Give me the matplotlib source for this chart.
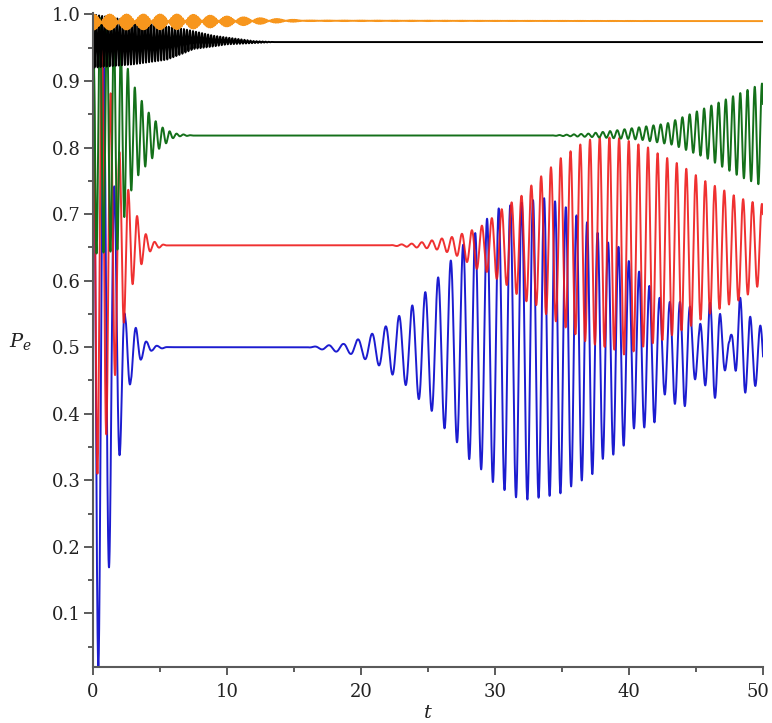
import numpy as np
import matplotlib
matplotlib.use("Agg")
import matplotlib.pyplot as plt
from matplotlib.ticker import MultipleLocator

# ---- excited-state population curves: envelope knots and carrier periods ----
# blue
blue_up_t = [0, 0.8, 1.6, 2.4, 3.2, 4.0, 4.8, 5.6, 16.0, 18.7, 19.8, 20.8, 21.9, 22.9,
             23.9, 24.9, 25.8, 26.8, 27.7, 28.6, 29.4, 30.3, 31.5, 32.6, 33.7, 34.5, 35.3,
             36.0, 36.8, 37.6, 38.3, 39.1, 39.9, 40.6, 41.4, 42.2, 42.9, 44.4, 45.2, 46.0,
             46.8, 47.5, 48.2, 49.2, 50.0]
blue_up_v = [1.0, 0.92, 0.74, 0.545, 0.529, 0.508, 0.502, 0.5, 0.5, 0.505, 0.512, 0.52,
             0.532, 0.548, 0.564, 0.585, 0.606, 0.633, 0.656, 0.673, 0.693, 0.709, 0.715,
             0.72, 0.724, 0.719, 0.71, 0.699, 0.689, 0.673, 0.658, 0.654, 0.631, 0.618,
             0.595, 0.575, 0.568, 0.568, 0.53, 0.568, 0.55, 0.51, 0.578, 0.54, 0.53]
blue_lo_t = [0, 0.4, 1.2, 2.0, 2.8, 3.6, 4.4, 5.6, 16.0, 19.2, 20.3, 21.4, 22.4, 23.4,
             24.4, 25.4, 26.3, 27.3, 28.1, 29.1, 29.9, 30.8, 31.6, 32.4, 33.3, 34.2, 35.0,
             35.9, 36.6, 37.4, 38.1, 38.9, 39.6, 40.4, 41.1, 41.9, 42.6, 43.4, 44.1, 44.8,
             45.5, 46.3, 47.1, 47.7, 48.3, 49.1, 50.0]
blue_lo_v = [0.0, 0.02, 0.17, 0.34, 0.447, 0.482, 0.495, 0.5, 0.5, 0.49, 0.482, 0.472,
             0.458, 0.442, 0.42, 0.402, 0.376, 0.354, 0.331, 0.314, 0.296, 0.284, 0.274,
             0.271, 0.274, 0.277, 0.281, 0.294, 0.301, 0.311, 0.334, 0.339, 0.352, 0.379,
             0.379, 0.387, 0.43, 0.415, 0.407, 0.452, 0.45, 0.417, 0.462, 0.49, 0.427,
             0.437, 0.45]
blue_per_t = [0, 6, 19, 22, 26, 29, 32, 35, 40, 45, 50]
blue_per_v = [0.8, 0.8, 1.1, 1.0, 0.95, 0.88, 0.85, 0.8, 0.77, 0.75, 0.75]

# red
red_up_t = [0, 0.66, 1.33, 2.0, 2.7, 3.4, 4.05, 4.7, 5.5, 22.0, 24.0, 24.9, 25.9, 26.9,
            27.6, 28.3, 28.9, 29.6, 30.4, 31.1, 31.9, 32.6, 33.4, 34.1, 34.9, 35.6, 36.3,
            37.1, 37.8, 38.6, 39.3, 40.1, 40.8, 41.6, 42.3, 43.1, 43.8, 44.6, 45.3, 46.0,
            46.8, 47.5, 48.3, 49.0, 50.0]
red_up_v = [1.0, 0.96, 0.88, 0.79, 0.731, 0.691, 0.666, 0.657, 0.653, 0.653, 0.656, 0.659,
            0.663, 0.666, 0.671, 0.676, 0.681, 0.691, 0.706, 0.716, 0.726, 0.741, 0.756,
            0.769, 0.784, 0.794, 0.804, 0.812, 0.815, 0.815, 0.814, 0.809, 0.804, 0.799,
            0.789, 0.782, 0.774, 0.764, 0.754, 0.746, 0.739, 0.731, 0.724, 0.719, 0.715]
red_lo_t = [0, 0.33, 1.0, 1.66, 2.33, 3.0, 3.7, 4.35, 5.5, 22.0, 24.0, 25.4, 26.4, 27.1,
            27.9, 28.6, 29.4, 30.1, 30.9, 31.6, 32.4, 33.1, 33.9, 34.6, 35.4, 36.1, 36.8,
            37.6, 38.3, 39.1, 39.8, 40.6, 41.3, 42.1, 42.8, 43.6, 44.3, 45.1, 45.8, 46.5,
            47.3, 48.0, 48.8, 49.5, 50.0]
red_lo_v = [0.31, 0.31, 0.37, 0.46, 0.54, 0.598, 0.628, 0.646, 0.653, 0.653, 0.650, 0.648,
            0.643, 0.638, 0.628, 0.618, 0.613, 0.603, 0.593, 0.580, 0.568, 0.563, 0.548,
            0.538, 0.528, 0.518, 0.508, 0.503, 0.5, 0.495, 0.487, 0.497, 0.503, 0.508,
            0.513, 0.523, 0.528, 0.538, 0.548, 0.555, 0.563, 0.568, 0.578, 0.590, 0.596]
red_per_t = [0, 6, 22, 30, 40, 50]
red_per_v = [0.66, 0.66, 0.76, 0.74, 0.72, 0.70]

# green
green_up_t = [0, 1.5, 2.4, 3.0, 3.5, 4.1, 4.9, 5.5, 6.2, 7.5, 34.0, 37.0, 39.1, 42.8,
              46.5, 49.8, 50.0]
green_up_v = [1.0, 0.985, 0.93, 0.895, 0.875, 0.854, 0.834, 0.826, 0.821, 0.818, 0.818,
              0.821, 0.826, 0.836, 0.866, 0.895, 0.897]
green_lo_t = [0, 1.8, 2.64, 3.21, 4.0, 4.55, 5.0, 5.5, 5.95, 6.5, 7.5, 34.0, 37.0, 40.8,
              43.3, 45.8, 48.3, 50.0]
green_lo_v = [0.64, 0.645, 0.724, 0.754, 0.774, 0.787, 0.8, 0.807, 0.814, 0.817, 0.818,
              0.818, 0.816, 0.812, 0.804, 0.784, 0.756, 0.742]
green_per_t = [0, 10, 34, 50]
green_per_v = [0.52, 0.52, 0.54, 0.54]

# black
black_up_t = [0, 3, 6.8, 9, 12, 13.5, 50]
black_up_v = [1.0, 0.99, 0.978, 0.968, 0.96, 0.9585, 0.9585]
black_lo_t = [0, 3, 5.5, 6.8, 7.5, 9, 10, 12, 13.5, 50]
black_lo_v = [0.92, 0.925, 0.932, 0.942, 0.948, 0.952, 0.955, 0.957, 0.9585, 0.9585]
black_per_t = [0, 50]
black_per_v = [0.226, 0.226]

# orange
orange_up_t = [0, 7, 12, 16, 50]
orange_up_v = [1.0, 1.0, 0.995, 0.991, 0.99]
orange_lo_t = [0, 7, 10, 12, 14, 16, 50]
orange_lo_v = [0.977, 0.978, 0.982, 0.985, 0.988, 0.99, 0.99]
orange_per_t = [0, 50]
orange_per_v = [0.113, 0.113]

x_ticks = [0, 10, 20, 30, 40, 50]
y_ticks = [0.1, 0.2, 0.3, 0.4, 0.5, 0.6, 0.7, 0.8, 0.9, 1.0]

# plotting grids: fine for most curves, coarse sampling for the fast orange one
fine_step = 0.00125
orange_step = 0.05917


def trace(tt, up_t, up_v, lo_t, lo_v, per_t, per_v):
    upper = np.interp(tt, up_t, up_v)
    lower = np.interp(tt, lo_t, lo_v)
    freq = 1.0 / np.interp(tt, per_t, per_v)
    phase = np.concatenate([[0.0], np.cumsum(0.5 * (freq[1:] + freq[:-1]) * np.diff(tt))])
    return lower + (upper - lower) * 0.5 * (1.0 + np.cos(2 * np.pi * phase))


curves = [
    (blue_up_t, blue_up_v, blue_lo_t, blue_lo_v, blue_per_t, blue_per_v, "#1c1cd0", 1.0, fine_step),
    (red_up_t, red_up_v, red_lo_t, red_lo_v, red_per_t, red_per_v, "#ee1a1a", 0.9, fine_step),
    (green_up_t, green_up_v, green_lo_t, green_lo_v, green_per_t, green_per_v, "#14701a", 1.0, fine_step),
    (black_up_t, black_up_v, black_lo_t, black_lo_v, black_per_t, black_per_v, "#000000", 1.0, fine_step),
    (orange_up_t, orange_up_v, orange_lo_t, orange_lo_v, orange_per_t, orange_per_v, "#f7961d", 1.0, orange_step),
]

plt.rcParams["mathtext.fontset"] = "dejavuserif"
fig = plt.figure(figsize=(7.72, 7.23), dpi=100)
ax = fig.add_axes([0.1205, 0.0775, 0.8679, 0.9039])

for up_t, up_v, lo_t, lo_v, per_t, per_v, color, alpha, step in curves:
    tt = np.linspace(0.0, 50.0, int(round(50.0 / step)) + 1)
    ax.plot(tt, trace(tt, up_t, up_v, lo_t, lo_v, per_t, per_v), color=color, lw=1.4,
            alpha=alpha, solid_joinstyle="round")

ax.set_xlim(0, 50)
ax.set_ylim(0.0195, 1.0015)

for side in ("top", "right"):
    ax.spines[side].set_visible(False)
for side in ("left", "bottom"):
    ax.spines[side].set_color("#5a5a5a")
    ax.spines[side].set_linewidth(1.5)

label_font = dict(family="DejaVu Serif", size=13, color="#222222")
tick_len_x, tick_pad_x = 5.5, 6

ax.set_xticks(x_ticks)
# the final x label is placed by hand, nudged so it stays on the canvas
ax.set_xticklabels([str(v) for v in x_ticks[:-1]] + [""], fontdict=label_font)
ax.annotate(str(x_ticks[-1]), xy=(x_ticks[-1], 0), xycoords=("data", "axes fraction"),
            xytext=(-4, -(tick_len_x + tick_pad_x)), textcoords="offset points",
            ha="center", va="top", **label_font)
ax.xaxis.set_minor_locator(MultipleLocator(5))
ax.set_yticks(y_ticks)
ax.set_yticklabels([f"{v:.1f}" for v in y_ticks], fontdict=label_font)
ax.yaxis.set_minor_locator(MultipleLocator(0.05))

ax.tick_params(axis="both", which="both", direction="out", color="#404040", width=1.2)
ax.tick_params(axis="x", which="major", length=tick_len_x, pad=tick_pad_x)
ax.tick_params(axis="x", which="minor", length=3.5)
ax.tick_params(axis="y", which="major", length=6.5, pad=2.5)
ax.tick_params(axis="y", which="minor", length=3.5)

fig.text(428 / 772, 1 - 713 / 723, r"$t$", ha="center", va="center", fontsize=14,
         color="#222222")
fig.text(20 / 772, 1 - 342 / 723, r"$P_e$", ha="center", va="center", fontsize=14,
         color="#222222")

fig.savefig("out.png", dpi=100, facecolor="white")
